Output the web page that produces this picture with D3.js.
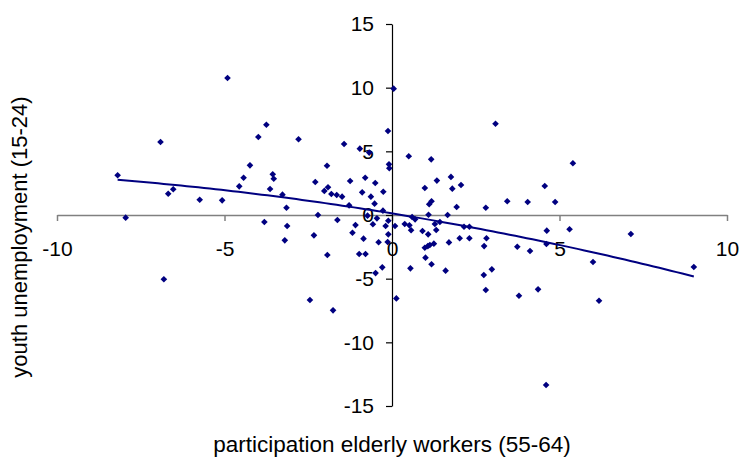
<!DOCTYPE html>
<html>
<head>
<meta charset="utf-8">
<script src="https://cdn.jsdelivr.net/npm/d3@7"></script>
<style>
  body { margin: 0; background: #fff; }
  svg { display: block; font-family: "Liberation Sans", Arial, sans-serif; }
</style>
</head>
<body>
<div id="chart"></div>
<script>
// values: x = change in participation of elderly workers, y = change in youth unemployment
var xValues = [-8.19, -7.95, -6.91, -6.81, -6.68, -6.53, -5.74, -5.07, -4.91, -4.56,
  -4.43, -4.24, -3.99, -3.81, -3.75, -3.64, -3.56, -3.53, -3.27, -3.2,
  -3.15, -3.13, -2.79, -2.45, -2.33, -2.29, -2.21, -2.02, -1.94, -1.93,
  -1.91, -1.81, -1.76, -1.65, -1.63, -1.49, -1.43, -1.28, -1.25, -1.18,
  -1.09, -0.98, -0.96, -0.89, -0.85, -0.8, -0.79, -0.73, -0.68, -0.63,
  -0.57, -0.52, -0.5, -0.49, -0.45, -0.4, -0.29, -0.27, -0.26, -0.19,
  -0.13, -0.12, -0.11, -0.11, -0.09, -0.08, 0.05, 0.09, 0.13, 0.38,
  0.5, 0.52, 0.55, 0.57, 0.6, 0.69, 0.91, 0.98, 0.98, 1.0,
  1.07, 1.08, 1.09, 1.11, 1.13, 1.17, 1.18, 1.18, 1.25, 1.28,
  1.32, 1.34, 1.43, 1.6, 1.66, 1.7, 1.76, 1.8, 1.93, 2.02,
  2.06, 2.15, 2.31, 2.31, 2.74, 2.75, 2.8, 2.8, 2.82, 2.98,
  3.09, 3.44, 3.74, 3.79, 4.05, 4.12, 4.36, 4.56, 4.6, 4.62,
  4.61, 4.87, 5.3, 5.4, 6.0, 6.18, 7.13, 9.01];

var yValues = [3.12, -0.21, 5.73, -5.05, 1.67, 2.02, 1.2, 1.15, 10.76, 2.25,
  2.93, 3.9, 6.13, -0.55, 7.09, 2.04, 3.2, 2.85, 1.6, -1.99,
  0.57, -0.86, 5.95, -6.68, -1.6, 2.59, 0, 1.89, 3.87, -3.14,
  2.18, 1.65, -7.49, 1.57, -0.39, 1.44, 5.58, 0.76, 2.67, -1.39,
  -0.79, -3.06, 5.21, 1.78, -1.86, 2.93, -3.06, -0.05, 4.9, 1.44,
  -0.73, 0.89, 2.51, -4.56, -0.26, -2.14, -4.11, 0.34, 1.83, -0.86,
  -2.12, 6.6, -1.52, -0.45, 3.98, 3.67, 9.92, -0.86, -6.55, -0.71,
  4.61, -0.81, -4.19, -1.2, -0.16, -0.34, -1.26, 2.12, -2.57, -3.35,
  -2.44, -1.52, 0.02, 0.84, -2.36, 4.37, 1.08, -3.87, -2.25, -0.71,
  -1.18, 2.7, -0.55, -4.37, 0, -2.15, 2.99, 2.07, 0.63, -1.83,
  2.36, -0.92, -0.92, -1.83, -4.71, -2.44, 0.57, -5.89, -1.83, -4.27,
  7.17, 1.08, -2.49, -6.34, 1.02, -2.83, -5.84, 2.28, -13.35, -1.23,
  -2.28, 1.02, -1.12, 4.06, -3.69, -6.73, -1.49, -4.08];

var xTicks = [-10, -5, 0, 5, 10];
var yTicks = [-15, -10, -5, 0, 5, 10, 15];

var xTitle = "participation elderly workers (55-64)";
var yTitle = "youth unemployment (15-24)";

// 2nd order polynomial trend, least squares like the spreadsheet does it
function polyfit2(xs, ys){
  var s = [0, 0, 0, 0, 0], t = [0, 0, 0];
  for(var i = 0; i < xs.length; i++){
    var p = 1;
    for(var k = 0; k < 5; k++){ s[k] += p; if(k < 3) t[k] += p * ys[i]; p *= xs[i]; }
  }
  var m = [[s[0], s[1], s[2], t[0]], [s[1], s[2], s[3], t[1]], [s[2], s[3], s[4], t[2]]];
  for(var c = 0; c < 3; c++){
    for(var r = c + 1; r < 3; r++){
      var f = m[r][c] / m[c][c];
      for(var j = c; j < 4; j++) m[r][j] -= f * m[c][j];
    }
  }
  var b = [0, 0, 0];
  for(var r = 2; r >= 0; r--){
    var v = m[r][3];
    for(var j = r + 1; j < 3; j++) v -= m[r][j] * b[j];
    b[r] = v / m[r][r];
  }
  return b;
}

// plain hyphen for negatives, like the original
function fmt(d){ return String(d); }

var W = 740, H = 457;
var svg = d3.select("#chart").append("svg").attr("width", W).attr("height", H);

var x = d3.scaleLinear().domain([-10, 10]).range([57, 727]);
var y = d3.scaleLinear().domain([-15, 15]).range([406, 24]);

var gx = svg.append("g")
  .attr("transform", "translate(0," + y(0) + ")")
  .call(d3.axisBottom(x).tickValues(xTicks).tickFormat(fmt).tickSize(6).tickSizeOuter(0).tickPadding(20));
gx.select(".domain").attr("stroke", "#808080").attr("stroke-width", 1.5);
gx.selectAll(".tick line").attr("stroke", "#808080").attr("stroke-width", 1.5);
gx.selectAll("text").attr("font-size", 21).attr("fill", "#000")
  .attr("font-family", "Liberation Sans, Arial, sans-serif");

var gy = svg.append("g")
  .attr("transform", "translate(" + x(0) + ",0)")
  .call(d3.axisLeft(y).tickValues(yTicks).tickFormat(fmt).tickSize(6).tickSizeOuter(0).tickPadding(12));
gy.select(".domain").attr("stroke", "#000").attr("stroke-width", 1.2);
gy.selectAll(".tick line").attr("stroke", "#000").attr("stroke-width", 1.2);
gy.selectAll("text").attr("font-size", 21).attr("fill", "#000")
  .attr("font-family", "Liberation Sans, Arial, sans-serif");

var pts = d3.range(xValues.length).map(function(i){ return {x: xValues[i], y: yValues[i]}; });

svg.append("g").selectAll("path")
  .data(pts)
  .enter()
  .append("path")
  .attr("d", d3.symbol().type(d3.symbolSquare).size(22))
  .attr("transform", function(d){ return "translate(" + x(d.x) + "," + y(d.y) + ") rotate(45)"; })
  .attr("fill", "#000080");

var cf = polyfit2(xValues, yValues);
var xmin = d3.min(xValues), xmax = d3.max(xValues);
var trend = d3.range(0, 101).map(function(i){
  var xv = xmin + (xmax - xmin) * i / 100;
  return [xv, cf[0] + cf[1] * xv + cf[2] * xv * xv];
});

svg.append("path")
  .datum(trend)
  .attr("fill", "none")
  .attr("stroke", "#000080")
  .attr("stroke-width", 2)
  .attr("d", d3.line().x(function(d){ return x(d[0]); }).y(function(d){ return y(d[1]); }));

svg.append("text")
  .attr("x", 392).attr("y", 452)
  .attr("text-anchor", "middle")
  .attr("font-size", 22.5)
  .text(xTitle);

svg.append("text")
  .attr("transform", "translate(27,237) rotate(-90)")
  .attr("text-anchor", "middle")
  .attr("font-size", 22)
  .text(yTitle);
</script>
</body>
</html>
